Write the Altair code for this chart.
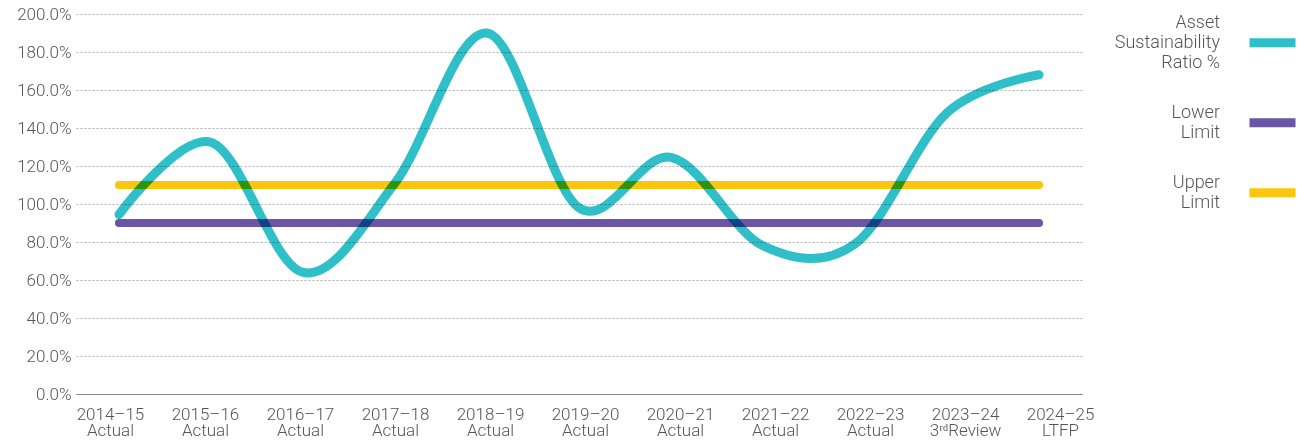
import altair as alt
import pandas as pd

# ---- data ----
years = ["2014–15", "2015–16", "2016–17", "2017–18", "2018–19", "2019–20",
         "2020–21", "2021–22", "2022–23", "2023–24", "2024–25"]
subtitles = ["Actual", "Actual", "Actual", "Actual", "Actual", "Actual",
             "Actual", "Actual", "Actual", "3ʳᵈReview", "LTFP"]
ratio_pct = [94.5, 132.5, 64, 111, 190, 98, 124.5, 78, 79, 148, 168]
lower_pct = [90] * 11
upper_pct = [110] * 11

series_names = ["Asset Sustainability Ratio %", "Lower Limit", "Upper Limit"]
series_colors = ["#2fbfc8", "#6a56a4", "#fcc50e"]

cats = [f"{y} {s}" for y, s in zip(years, subtitles)]

rows = []
for c, v in zip(cats, ratio_pct):
    rows.append({"cat": c, "series": series_names[0], "value": v / 100})
for c, v in zip(cats, lower_pct):
    rows.append({"cat": c, "series": series_names[1], "value": v / 100})
for c, v in zip(cats, upper_pct):
    rows.append({"cat": c, "series": series_names[2], "value": v / 100})
df = pd.DataFrame(rows)

FONT = "Roboto"
TXT = "#555555"

color_scale = alt.Scale(domain=series_names, range=series_colors)
legend = alt.Legend(
    title=None, orient="none", legendX=1169, legendY=-9,
    symbolType="M-1,0.45h2", symbolSize=2116, symbolStrokeWidth=9,
    labelAlign="right", labelOffset={"expr": "-80"},
    labelBaseline={"expr": "datum.index == 0 ? 'line-bottom' : 'middle'"},
    labelFont=FONT, labelFontSize=18, labelFontWeight=300, labelColor=TXT,
    labelLimit=300, rowPadding=13,
    labelExpr="datum.label == 'Asset Sustainability Ratio %' ? ['Asset', 'Sustainability', 'Ratio %'] : split(datum.label, ' ')",
)

yaxis = alt.Axis(
    title=None, format=".1%", values=[i / 10 for i in range(0, 21, 2)],
    labelFont=FONT, labelFontSize=17, labelFontWeight=300, labelColor=TXT,
    labelPadding=5, ticks=False, domain=False,
    grid=True, gridWidth=1,
    gridColor={"condition": {"test": "datum.value === 0", "value": "#8a8a8a"}, "value": "#b0b0b0"},
    gridDash={"condition": {"test": "datum.value === 0", "value": []}, "value": [2, 2]},
)
yenc = alt.Y("value:Q", scale=alt.Scale(domain=[0, 2], nice=False, zero=True), axis=yaxis)

xaxis = alt.Axis(
    title=None, labelAngle=0, ticks=False,
    domain=True, domainColor="#8a8a8a", domainWidth=1,
    labelFont=FONT, labelFontSize=17, labelFontWeight=300, labelColor=TXT,
    labelPadding=12, labelLineHeight=16,
    labelOffset={"expr": "-9 + 30 * datum.index"},
    labelExpr="[slice(datum.label, 0, indexof(datum.label, ' ')), slice(datum.label, indexof(datum.label, ' ') + 1)]",
)
xenc = alt.X("cat:N", sort=cats, scale=alt.Scale(type="point", padding=0.467), axis=xaxis)

limits = alt.Chart(df).transform_filter(
    alt.datum.series != series_names[0]
).mark_line(strokeWidth=8, strokeCap="round", interpolate="cardinal").encode(
    x=xenc, y=yenc,
    color=alt.Color("series:N", scale=color_scale, legend=legend),
    detail="series:N",
)

ratio = alt.Chart(df).transform_filter(
    alt.datum.series == series_names[0]
).mark_line(strokeWidth=9, strokeCap="round", strokeJoin="round",
            interpolate="cardinal", blend="multiply").encode(
    x=xenc, y=yenc,
    color=alt.Color("series:N", scale=color_scale, legend=legend),
)

chart = alt.layer(limits, ratio).properties(
    width=1006, height=380,
    autosize=alt.AutoSizeParams(type="none"),
    padding={"left": 68, "top": 6, "right": 218, "bottom": 47},
).configure_view(stroke=None)

chart.save("out.html", embed_options={"renderer": "svg", "actions": False})
